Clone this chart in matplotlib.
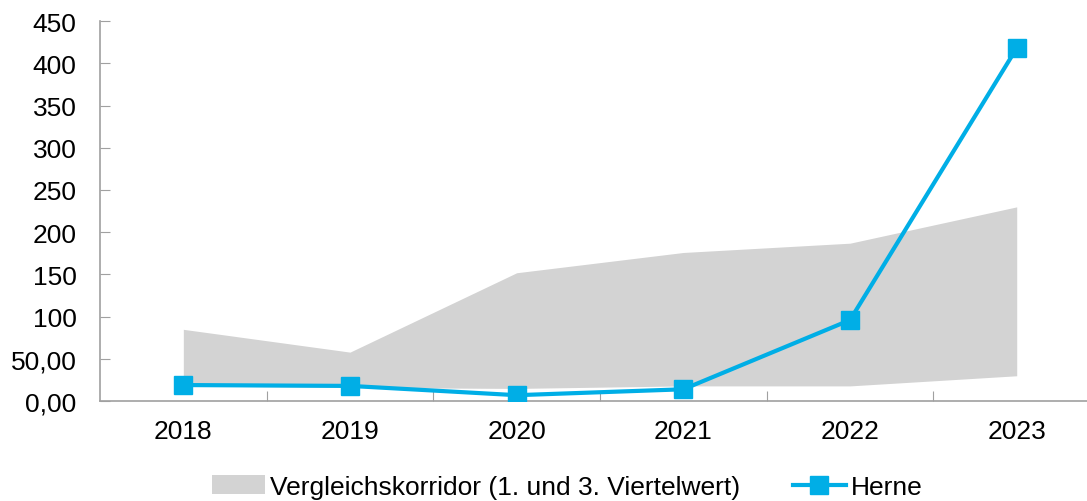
import matplotlib
matplotlib.use("Agg")
import matplotlib.pyplot as plt
from matplotlib.patches import Patch
from matplotlib.lines import Line2D

years = ["2018", "2019", "2020", "2021", "2022", "2023"]
herne = [19, 18, 7, 14, 96, 418]
corridor_low = [18, 16, 15, 18, 18, 30]
corridor_high = [85, 58, 152, 176, 187, 230]
yticks = [0, 50, 100, 150, 200, 250, 300, 350, 400, 450]
ytick_labels = ["0,00", "50,00", "100", "150", "200", "250", "300", "350", "400", "450"]

plt.rcParams['font.family'] = ['Liberation Sans', 'DejaVu Sans']

fig = plt.figure(figsize=(10.87, 5.02), dpi=100)
ax = fig.add_axes([0.092, 0.199, 0.92, 0.757])

x = list(range(len(years)))
gray = "#D3D3D3"
blue = "#00AEE6"
ax.fill_between(x, corridor_low, corridor_high, color=gray, linewidth=0, zorder=1)
ax.plot(x, herne, color=blue, lw=3, marker="s", markersize=12.5, zorder=3)

ax.set_xlim(-0.5, 5.5)
ax.set_ylim(0, 450)
ax.set_yticks(yticks)
ax.set_yticklabels(ytick_labels)
ax.set_xticks([i + 0.5 for i in range(5)])
ax.set_xticklabels([])
ax.set_xticks(x, minor=True)
ax.set_xticklabels(years, minor=True)
ax.tick_params(axis='x', which='minor', length=0, pad=13, labelsize=19)
ax.tick_params(axis='x', which='major', direction='in', length=7, color="#A0A0A0")
ax.tick_params(axis='y', direction='in', length=7, color="#A0A0A0", labelsize=19, pad=17)

for s in ["top", "right"]:
    ax.spines[s].set_visible(False)
for s in ["left", "bottom"]:
    ax.spines[s].set_color("#A0A0A0")
    ax.spines[s].set_linewidth(1.2)

handles = [Patch(facecolor=gray, edgecolor='none', label="Vergleichskorridor (1. und 3. Viertelwert)"),
           Line2D([0], [0], color=blue, lw=3, marker="s", markersize=12.5, label="Herne")]
fig.legend(handles=handles, loc="center", bbox_to_anchor=(0.522, 0.028), ncol=2, frameon=False,
           fontsize=19, handlelength=2.0, handletextpad=0.2, columnspacing=2.0)

fig.savefig("out.png", dpi=100)
